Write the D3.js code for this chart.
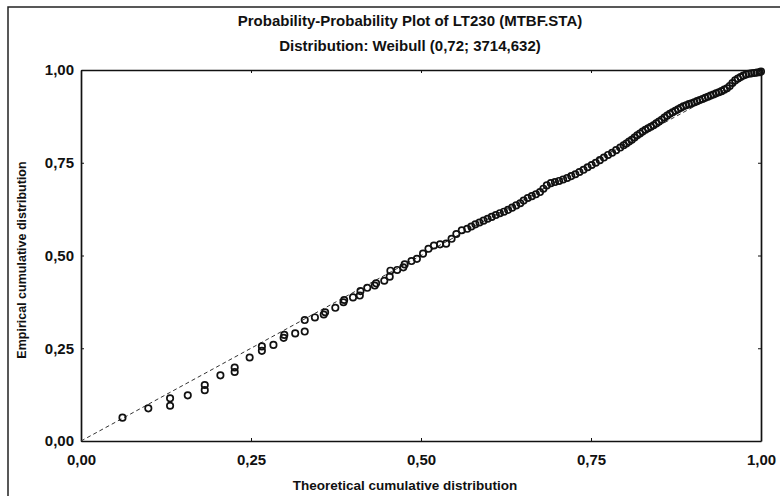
<!DOCTYPE html>
<html lang="en">
<head>
    <meta charset="UTF-8">
    <title>P-P plot</title>
    <style>
        body { margin: 0; background: #fff; }
        svg { display: block; }
        .lbl { font-family: "Liberation Sans", Arial, sans-serif; font-weight: bold; fill: #111; }
        .axis text { font-family: "Liberation Sans", Arial, sans-serif; font-weight: bold; font-size: 15px; fill: #111; }
        .axis path, .axis line { stroke: #111; }
        .axis path { stroke-width: 1.7px; }
    </style>
</head>
<body>
<script src="https://cdn.jsdelivr.net/npm/d3@7/dist/d3.min.js"></script>
<script>
    // chart data
    var titleLines = ["Probability-Probability Plot of LT230 (MTBF.STA)",
                      "Distribution: Weibull (0,72; 3714,632)"];
    var xTitle = "Theoretical cumulative distribution";
    var yTitle = "Empirical cumulative distribution";
    var tickValues = [0, 0.25, 0.5, 0.75, 1];

    var theoretical = [
        0.061, 0.099, 0.131, 0.131, 0.157, 0.182, 0.182, 0.205, 0.226, 0.226,
        0.248, 0.266, 0.266, 0.283, 0.298, 0.299, 0.315, 0.329, 0.329,
        0.344, 0.357, 0.359, 0.374, 0.386, 0.387, 0.400, 0.410, 0.411, 0.421,
        0.432, 0.434, 0.446, 0.454, 0.455, 0.465, 0.474, 0.476, 0.486, 0.494,
        0.503, 0.511, 0.519, 0.528, 0.537, 0.545, 0.552, 0.560, 0.568,
        0.574, 0.580, 0.586, 0.592, 0.598, 0.604, 0.610, 0.616, 0.622, 0.628,
        0.634, 0.640, 0.646, 0.651, 0.657, 0.663, 0.669, 0.675, 0.680, 0.685,
        0.691, 0.697, 0.703, 0.709, 0.715, 0.721, 0.727, 0.733, 0.739, 0.745,
        0.751, 0.757, 0.763, 0.769, 0.775, 0.781, 0.787, 0.793, 0.798,
        0.802, 0.806, 0.810, 0.814, 0.818, 0.822, 0.826, 0.830, 0.834, 0.838,
        0.842, 0.846, 0.850, 0.854, 0.858, 0.862, 0.866, 0.870, 0.874, 0.878,
        0.882, 0.886, 0.890, 0.894, 0.898, 0.902, 0.906, 0.910, 0.914, 0.918,
        0.922, 0.926, 0.930, 0.934, 0.938, 0.942, 0.946, 0.950, 0.954, 0.958,
        0.962, 0.966, 0.970, 0.974, 0.978, 0.982, 0.986, 0.990, 0.994, 0.998,
        1.000
    ];
    var empirical = [
        0.063, 0.088, 0.095, 0.115, 0.123, 0.137, 0.151, 0.177, 0.186, 0.198,
        0.225, 0.243, 0.255, 0.259, 0.278, 0.286, 0.290, 0.295, 0.326,
        0.333, 0.341, 0.347, 0.359, 0.374, 0.380, 0.387, 0.392, 0.404, 0.413,
        0.419, 0.425, 0.432, 0.443, 0.459, 0.461, 0.468, 0.476, 0.485, 0.491,
        0.505, 0.518, 0.527, 0.530, 0.532, 0.545, 0.558, 0.568, 0.572,
        0.578, 0.584, 0.589, 0.594, 0.599, 0.604, 0.609, 0.614, 0.618, 0.623,
        0.629, 0.635, 0.641, 0.648, 0.655, 0.660, 0.665, 0.671, 0.680, 0.689,
        0.695, 0.698, 0.701, 0.705, 0.709, 0.714, 0.719, 0.725, 0.731, 0.738,
        0.744, 0.750, 0.757, 0.764, 0.771, 0.777, 0.784, 0.791, 0.797,
        0.802, 0.807, 0.812, 0.818, 0.824, 0.829, 0.834, 0.839, 0.843, 0.847,
        0.851, 0.856, 0.861, 0.866, 0.872, 0.877, 0.882, 0.886, 0.890, 0.894,
        0.898, 0.902, 0.905, 0.908, 0.910, 0.913, 0.916, 0.919, 0.922, 0.925,
        0.928, 0.931, 0.934, 0.937, 0.940, 0.943, 0.947, 0.951, 0.957, 0.965,
        0.972, 0.977, 0.981, 0.985, 0.988, 0.990, 0.991, 0.992, 0.993, 0.994,
        0.996
    ];

    var width = 780, height = 496;
    var plotLeft = 81, plotRight = 761, plotTop = 70, plotBottom = 441;

    var svg = d3.select("body").append("svg")
        .attr("width", width)
        .attr("height", height);

    svg.append("rect")
        .attr("width", width)
        .attr("height", height)
        .attr("fill", "#fff");

    /* outer frame (cropped on the right and bottom) */
    svg.append("rect")
        .attr("x", 8)
        .attr("y", 7)
        .attr("width", width)
        .attr("height", height)
        .attr("fill", "none")
        .attr("stroke", "#222")
        .attr("stroke-width", 1.5);

    var x = d3.scaleLinear().domain([0, 1]).range([plotLeft, plotRight]);
    var y = d3.scaleLinear().domain([0, 1]).range([plotBottom, plotTop]);

    var fmt = d3.formatLocale({decimal: ",", thousands: ".", grouping: [3], currency: ["", ""]}).format(".2f");

    /* axes, ticks point inward */
    svg.append("g")
        .attr("class", "axis")
        .attr("transform", "translate(0," + plotBottom + ")")
        .call(d3.axisBottom(x).tickValues(tickValues).tickFormat(fmt)
            .tickSizeInner(-3).tickSizeOuter(0).tickPadding(13));

    svg.append("g")
        .attr("class", "axis")
        .attr("transform", "translate(" + plotLeft + ",0)")
        .call(d3.axisLeft(y).tickValues(tickValues).tickFormat(fmt)
            .tickSizeInner(-3).tickSizeOuter(0).tickPadding(7));

    svg.append("g")
        .attr("class", "axis")
        .attr("transform", "translate(0," + plotTop + ")")
        .call(d3.axisTop(x).tickValues(tickValues).tickFormat("")
            .tickSizeInner(-3).tickSizeOuter(0));

    svg.append("g")
        .attr("class", "axis")
        .attr("transform", "translate(" + plotRight + ",0)")
        .call(d3.axisRight(y).tickValues(tickValues).tickFormat("")
            .tickSizeInner(-3).tickSizeOuter(0));

    /* reference line y = x */
    svg.append("line")
        .attr("x1", x(0))
        .attr("y1", y(0))
        .attr("x2", x(1))
        .attr("y2", y(1))
        .attr("stroke", "#333")
        .attr("stroke-width", 1)
        .attr("stroke-dasharray", "4,3");

    /* points */
    svg.append("g")
        .selectAll("circle")
        .data(d3.range(theoretical.length))
        .enter()
        .append("circle")
        .attr("cx", function (i) { return x(theoretical[i]); })
        .attr("cy", function (i) { return y(empirical[i]); })
        .attr("r", 3.2)
        .attr("fill", "none")
        .attr("stroke", "#111")
        .attr("stroke-width", 1.7);

    /* titles */
    svg.selectAll(".title")
        .data(titleLines)
        .enter()
        .append("text")
        .attr("class", "lbl title")
        .attr("x", 410)
        .attr("y", function (d, i) { return 26 + i * 25; })
        .attr("text-anchor", "middle")
        .attr("font-size", "15px")
        .text(function (d) { return d; });

    svg.append("text")
        .attr("class", "lbl")
        .attr("x", 405)
        .attr("y", 490)
        .attr("text-anchor", "middle")
        .attr("font-size", "13.5px")
        .text(xTitle);

    svg.append("text")
        .attr("class", "lbl")
        .attr("transform", "translate(26,260) rotate(-90)")
        .attr("text-anchor", "middle")
        .attr("font-size", "12.5px")
        .text(yTitle);
</script>
</body>
</html>
